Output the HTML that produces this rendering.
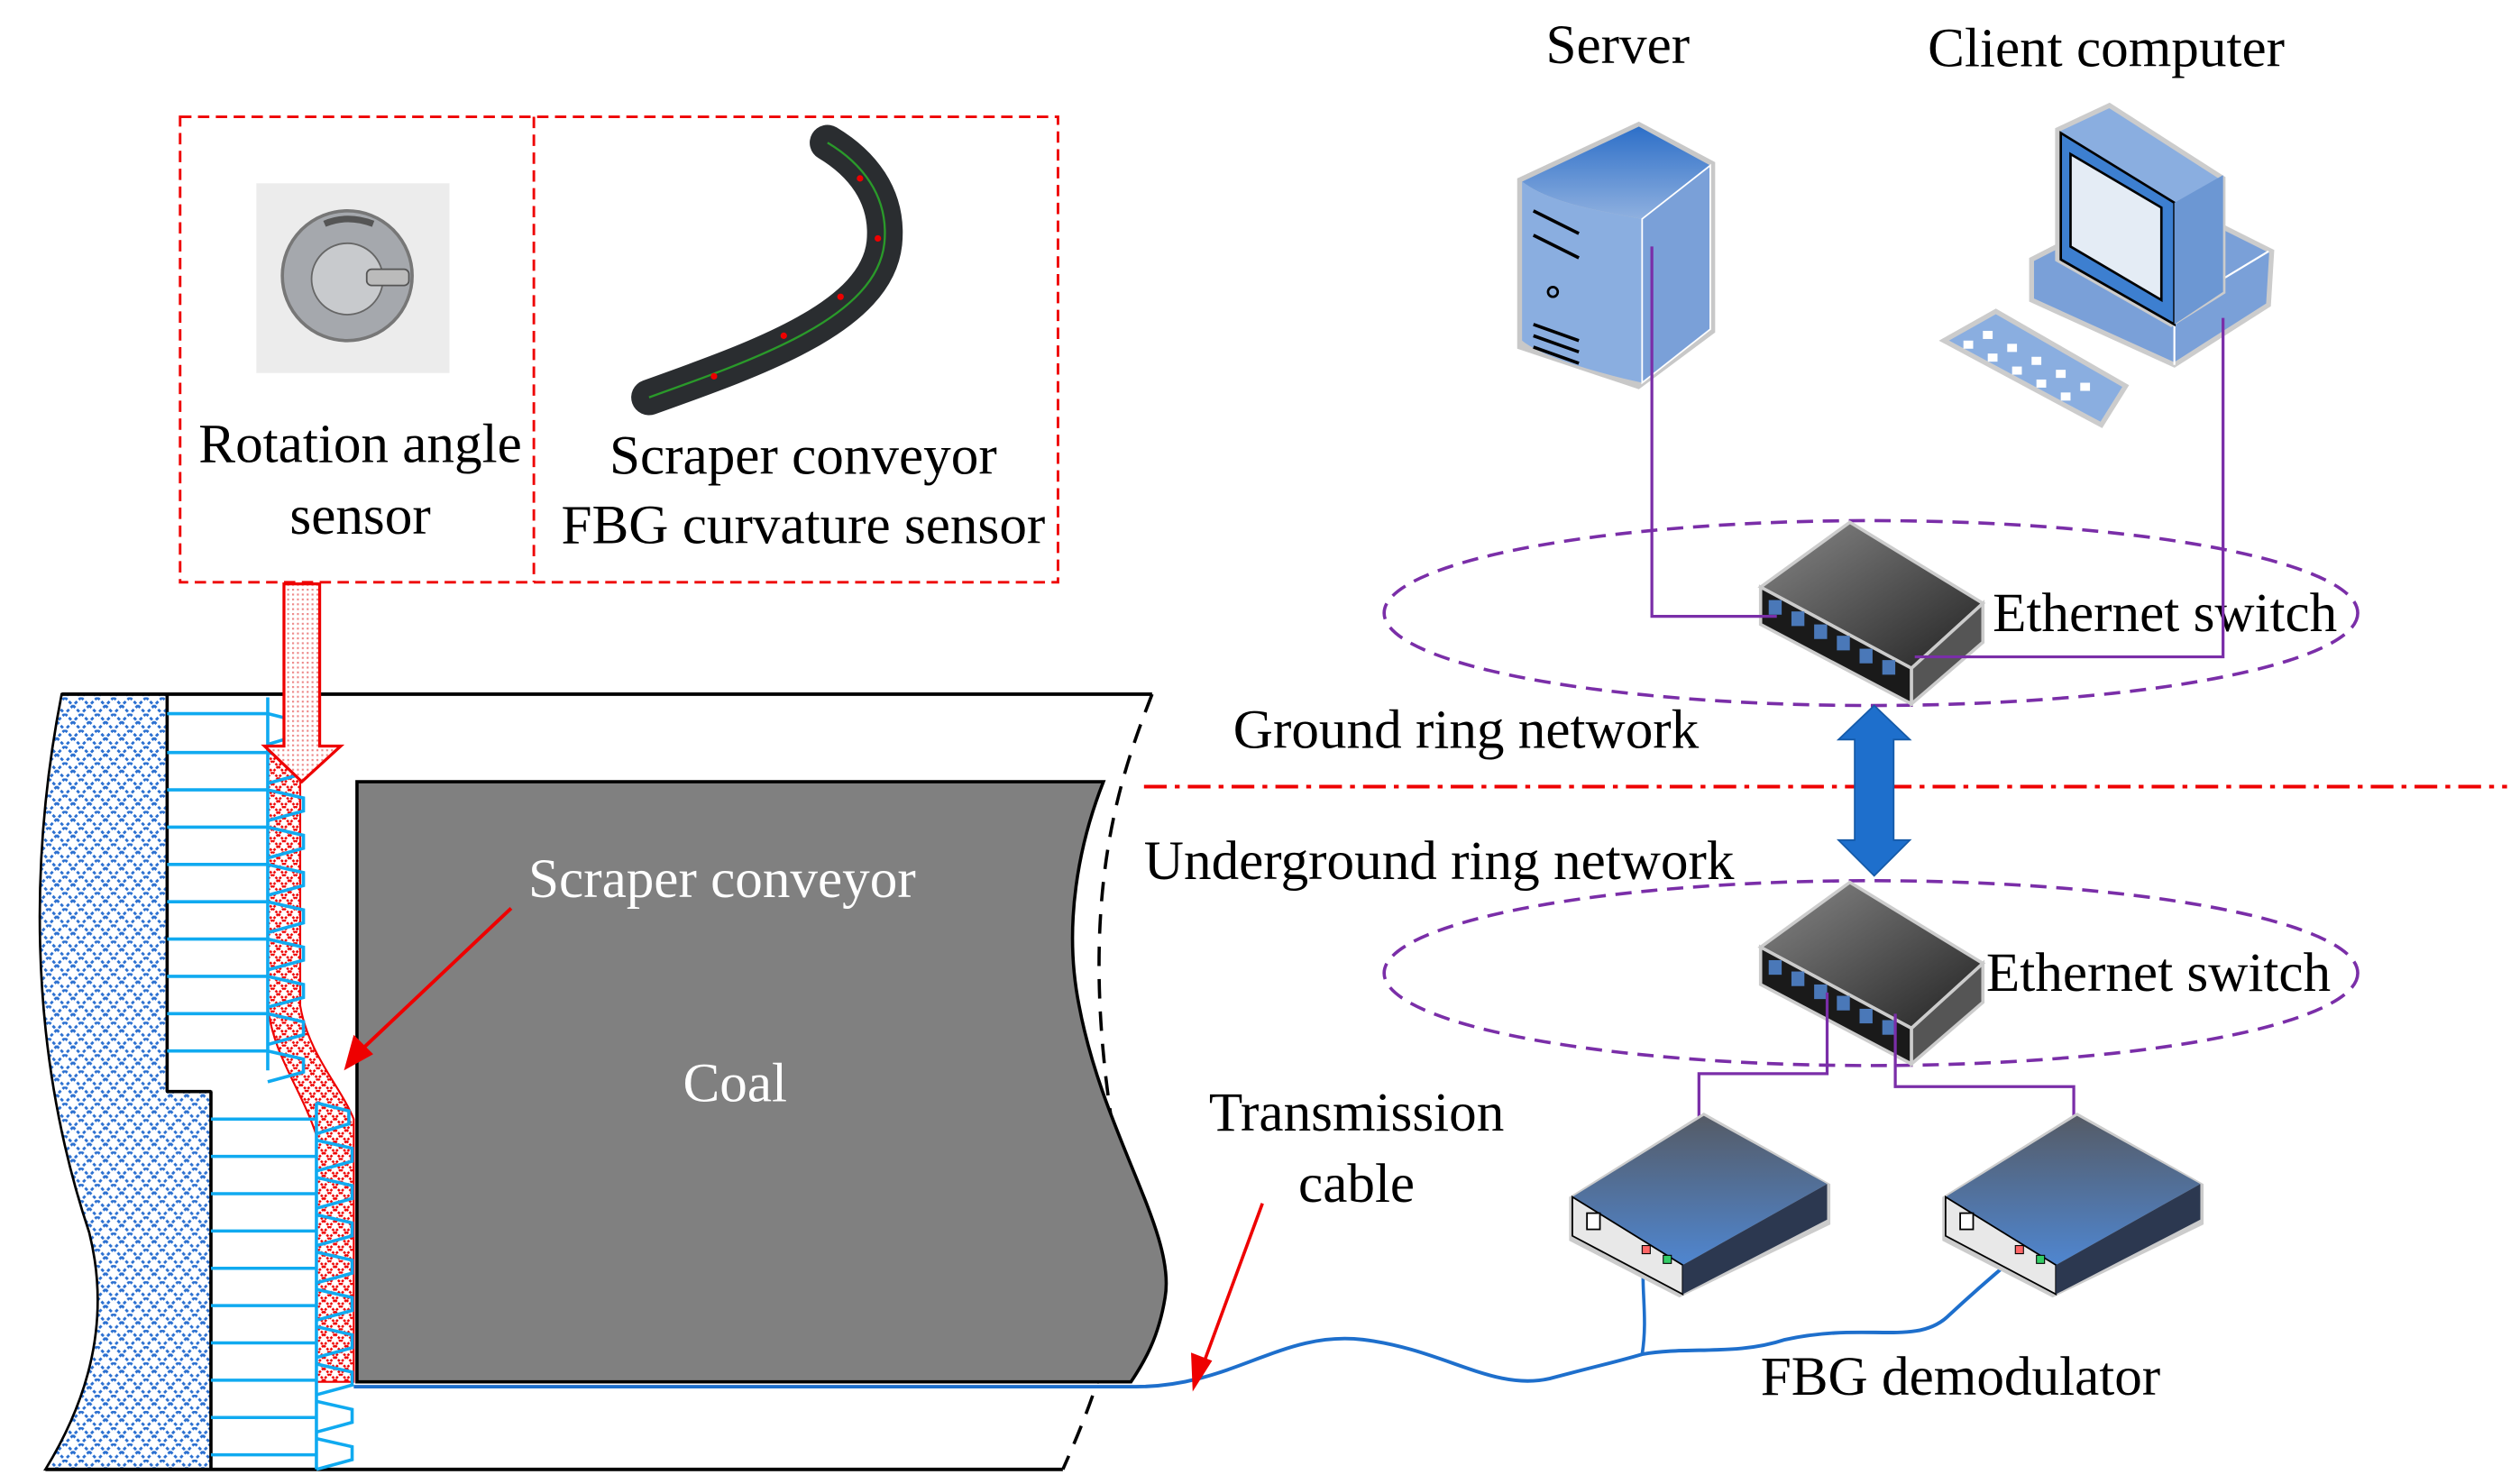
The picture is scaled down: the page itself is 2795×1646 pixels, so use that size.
<!DOCTYPE html>
<html><head><meta charset="utf-8"><style>
html,body{margin:0;padding:0;background:#fff}
svg{display:block}
text{font-family:"Liberation Serif",serif;}
</style></head><body>
<svg width="2795" height="1646" viewBox="0 0 1553 915" preserveAspectRatio="none" xmlns="http://www.w3.org/2000/svg">
<defs>
<pattern id="xh" width="10" height="10" patternUnits="userSpaceOnUse">
<path d="M0,0L10,10M10,0L0,10" stroke="#2a6fd0" stroke-width="1.6" stroke-dasharray="2,1.5"/>
</pattern>
<pattern id="rh" width="7" height="7" patternUnits="userSpaceOnUse">
<path d="M0,0L7,7M7,0L0,7" stroke="#e00" stroke-width="1.4" stroke-dasharray="1.5,1"/>
</pattern>
<pattern id="dots" width="3" height="3" patternUnits="userSpaceOnUse">
<rect width="3" height="3" fill="#fff"/><rect width="1.2" height="1.2" fill="#e88"/>
</pattern>
<linearGradient id="sw" x1="0" y1="0" x2="1" y2="1"><stop offset="0" stop-color="#888"/><stop offset="1" stop-color="#222"/></linearGradient>
<linearGradient id="bl" x1="0" y1="0" x2="0" y2="1"><stop offset="0" stop-color="#2d6fc8"/><stop offset="1" stop-color="#8fb0df"/></linearGradient>
<linearGradient id="dm" x1="0" y1="0" x2="0" y2="1"><stop offset="0" stop-color="#555b66"/><stop offset="1" stop-color="#4f86d0"/></linearGradient>
</defs>

<rect x="111" y="72" width="541" height="287" fill="none" stroke="#e00" stroke-width="1.6" stroke-dasharray="7,4"/>
<line x1="329" y1="72" x2="329" y2="359" stroke="#e00" stroke-width="1.6" stroke-dasharray="7,4"/>
<rect x="158" y="113" width="119" height="117" fill="#ececec"/>
<circle cx="214" cy="170" r="40" fill="#a5a8ad" stroke="#777" stroke-width="2"/>
<circle cx="214" cy="172" r="22" fill="#c8cacd" stroke="#666"/>
<rect x="226" y="166" width="26" height="10" rx="3" fill="#bbb" stroke="#555"/>
<path d="M200,138 Q214,132 230,138" stroke="#555" stroke-width="4" fill="none"/>
<path d="M400,245 C470,220 540,195 545,150 C548,120 530,100 510,88" stroke="#2a2d30" stroke-width="22" fill="none" stroke-linecap="round"/>
<path d="M400,245 C470,220 540,195 545,150 C548,120 530,100 510,88" stroke="#2a9a2a" stroke-width="1.3" fill="none"/>
<g fill="#e00"><circle cx="440" cy="232" r="2"/><circle cx="483" cy="207" r="2"/><circle cx="518" cy="183" r="2"/><circle cx="541" cy="147" r="2"/><circle cx="530" cy="110" r="2"/></g>
<text x="222" y="285" font-size="34" text-anchor="middle">Rotation angle</text>
<text x="222" y="329" font-size="34" text-anchor="middle">sensor</text>
<text x="495" y="292" font-size="34" text-anchor="middle">Scraper conveyor</text>
<text x="495" y="335" font-size="34" text-anchor="middle">FBG curvature sensor</text>

<path d="M38,428 C20,520 15,640 55,760 C70,820 50,870 28,906 L130,906 L130,673 L103,673 L103,428 Z" fill="url(#xh)" stroke="#000" stroke-width="1.5"/>
<line x1="38" y1="428" x2="710" y2="428" stroke="#000" stroke-width="2.2"/>
<line x1="28" y1="906" x2="655" y2="906" stroke="#000" stroke-width="2.2"/>
<path d="M710,428 C690,480 660,560 690,720 C700,790 680,850 655,906" fill="none" stroke="#000" stroke-width="2" stroke-dasharray="12,8"/>
<line x1="103" y1="428" x2="103" y2="673" stroke="#000" stroke-width="2"/>
<line x1="103" y1="673" x2="130" y2="673" stroke="#000" stroke-width="2"/>
<line x1="130" y1="673" x2="130" y2="906" stroke="#000" stroke-width="2"/>
<path d="M165,462 L185,462 L185,620 C190,650 210,670 218,690 L218,852 L195,852 L195,700 C185,670 168,650 165,620 Z" fill="url(#rh)" stroke="#e00" stroke-width="1.2"/>
<g stroke="#10aaf0" stroke-width="2" fill="none">
<path d="M103,440 H165 M103,464 H165 M103,487 H165 M103,510 H165 M103,533 H165 M103,556 H165 M103,579 H165 M103,602 H165 M103,625 H165 M103,648 H165"/>
<path d="M165,430 L165,660"/>
<path d="M165,440 l20,5 v8 l-20,6 M165,464 l22,5 v8 l-22,6 M165,487 l22,5 v8 l-22,6 M165,510 l22,5 v8 l-22,6 M165,533 l22,5 v8 l-22,6 M165,556 l22,5 v8 l-22,6 M165,579 l22,5 v8 l-22,6 M165,602 l22,5 v8 l-22,6 M165,625 l22,5 v8 l-22,6 M165,648 l22,5 v8 l-22,6"/>
<path d="M130,690 H195 M130,713 H195 M130,736 H195 M130,759 H195 M130,782 H195 M130,805 H195 M130,828 H195 M130,851 H195 M130,874 H195 M130,897 H195"/>
<path d="M195,680 L195,906"/>
<path d="M195,680 l20,5 v8 l-20,6 M195,703 l22,5 v8 l-22,6 M195,726 l22,5 v8 l-22,6 M195,749 l22,5 v8 l-22,6 M195,772 l22,5 v8 l-22,6 M195,795 l22,5 v8 l-22,6 M195,818 l22,5 v8 l-22,6 M195,841 l22,5 v8 l-22,6 M195,864 l22,5 v8 l-22,6 M195,887 l22,5 v8 l-22,6"/>
</g>
<path d="M175,360 L197,360 L197,460 L210,460 L186,482 L163,460 L175,460 Z" fill="url(#dots)" stroke="#e00" stroke-width="1.8"/>
<path d="M220,482 L680,482 C665,520 655,570 665,620 C680,700 725,760 718,800 C714,825 705,840 697,852 L220,852 Z" fill="#808080" stroke="#000" stroke-width="2"/>
<text x="445" y="553" font-size="34" fill="#fff" text-anchor="middle">Scraper conveyor</text>
<text x="453" y="679" font-size="34" fill="#fff" text-anchor="middle">Coal</text>
<line x1="315" y1="560" x2="222" y2="648" stroke="#e00" stroke-width="2.2"/>
<path d="M212,660 L218,638 L230,650 Z" fill="#e00"/>
<path d="M218,855 L700,855 C760,855 790,820 840,826 C890,832 920,858 955,850 C985,842 995,840 1012,835 C1040,830 1070,836 1100,826 C1150,815 1180,830 1200,812 C1215,798 1230,785 1242,775" fill="none" stroke="#1e6fcc" stroke-width="2.2"/>
<path d="M1012,835 C1016,810 1010,790 1014,772" fill="none" stroke="#1e6fcc" stroke-width="2"/>
<line x1="778" y1="742" x2="739" y2="848" stroke="#e00" stroke-width="2"/>
<path d="M735,858 L734,834 L747,839 Z" fill="#e00"/>
<text x="836" y="697" font-size="34" text-anchor="middle">Transmission</text>
<text x="836" y="741" font-size="34" text-anchor="middle">cable</text>

<line x1="705" y1="485" x2="1545" y2="485" stroke="#e00" stroke-width="2.2" stroke-dasharray="14,5,3,5"/>
<text x="760" y="461" font-size="34">Ground ring network</text>
<text x="705" y="542" font-size="34">Underground ring network</text>
<ellipse cx="1153" cy="378" rx="300" ry="57" fill="none" stroke="#7a2ea8" stroke-width="2" stroke-dasharray="10,6"/>
<ellipse cx="1153" cy="600" rx="300" ry="57" fill="none" stroke="#7a2ea8" stroke-width="2" stroke-dasharray="10,6"/>
<path d="M1155,435 L1177,456 L1167,456 L1167,518 L1177,518 L1155,540 L1133,518 L1143,518 L1143,456 L1133,456 Z" fill="#1e6fcc" stroke="#155aa8"/>

<g id="sw1">
<path d="M1085,362 L1140,322 L1222,372 L1178,412 Z" fill="url(#sw)" stroke="#ccc" stroke-width="2"/>
<path d="M1085,362 L1178,412 L1178,434 L1085,385 Z" fill="#1a1a1a" stroke="#ccc" stroke-width="2"/>
<path d="M1178,412 L1222,372 L1222,396 L1178,434 Z" fill="#555" stroke="#ccc" stroke-width="2"/>
<g fill="#4a78b8"><rect x="1090" y="370" width="8" height="9"/><rect x="1104" y="377" width="8" height="9"/><rect x="1118" y="385" width="8" height="9"/><rect x="1132" y="392" width="8" height="9"/><rect x="1146" y="400" width="8" height="9"/><rect x="1160" y="407" width="8" height="9"/></g>
</g>
<use href="#sw1" transform="translate(0,222)"/>
<text x="1228" y="389" font-size="34">Ethernet switch</text>
<text x="1224" y="611" font-size="34">Ethernet switch</text>

<path d="M935,110 L1010,75 L1057,100 L1057,205 L1010,240 L935,215 Z" fill="#c8c8c8"/>
<path d="M938,112 L1010,78 L1054,102 L1012,135 C985,130 955,125 938,112 Z" fill="url(#bl)"/>
<path d="M938,112 C955,125 985,130 1012,135 L1012,236 C985,230 950,220 938,210 Z" fill="#8aaee0"/>
<path d="M1012,135 L1054,102 L1054,203 L1012,236 Z" fill="#7aa0d8" stroke="#fff" stroke-width="1"/>
<g stroke="#000" stroke-width="2" fill="none"><path d="M945,130 l28,14 M945,145 l28,14 M945,200 l28,10 M945,207 l28,10 M945,214 l28,10"/></g>
<circle cx="957" cy="180" r="3" fill="none" stroke="#000" stroke-width="1.5"/>
<text x="997" y="39" font-size="34" text-anchor="middle">Server</text>

<path d="M1252,160 L1330,120 L1400,155 L1398,188 L1340,225 L1252,185 Z" fill="#7aa0d8" stroke="#ccc" stroke-width="3"/>
<path d="M1340,225 L1340,190 L1398,155" fill="none" stroke="#fff" stroke-width="1.2"/>
<path d="M1268,80 L1300,65 L1370,110 L1370,180 L1338,200 L1268,160 Z" fill="#8aaee0" stroke="#ccc" stroke-width="3"/>
<path d="M1270,82 L1340,125 L1340,200 L1270,160 Z" fill="#3d7fd0" stroke="#000" stroke-width="1.5"/>
<path d="M1276,95 L1332,128 L1332,185 L1276,152 Z" fill="#e4ecf5" stroke="#000" stroke-width="1.5"/>
<path d="M1340,125 L1370,108 L1370,180 L1340,200 Z" fill="#6c97d3"/>
<path d="M1198,210 L1230,192 L1310,238 L1295,262 Z" fill="#8aaee0" stroke="#ccc" stroke-width="3"/>
<g fill="#fff"><rect x="1210" y="210" width="6" height="5"/><rect x="1225" y="218" width="6" height="5"/><rect x="1240" y="226" width="6" height="5"/><rect x="1255" y="234" width="6" height="5"/><rect x="1270" y="242" width="6" height="5"/><rect x="1222" y="204" width="6" height="5"/><rect x="1237" y="212" width="6" height="5"/><rect x="1252" y="220" width="6" height="5"/><rect x="1267" y="228" width="6" height="5"/><rect x="1282" y="236" width="6" height="5"/></g>
<text x="1298" y="41" font-size="34" text-anchor="middle">Client computer</text>

<g fill="none" stroke="#7a2ea8" stroke-width="1.8">
<path d="M1018,152 V380 H1095"/>
<path d="M1370,196 V405 H1180"/>
<path d="M1126,612 V662 H1047 V742"/>
<path d="M1168,625 V670 H1278 V742"/>
</g>

<g id="dm1">
<path d="M967,738 L1050,686 L1128,730 L1128,755 L1035,800 L967,765 Z" fill="#ccc"/>
<path d="M969,738 L1050,688 L1126,730 L1037,780 Z" fill="url(#dm)"/>
<path d="M969,738 L1037,780 L1037,798 L969,762 Z" fill="#e8e8e8" stroke="#000" stroke-width="1"/>
<path d="M1037,780 L1126,730 L1126,752 L1037,798 Z" fill="#2c3850"/>
<rect x="978" y="748" width="8" height="10" fill="#fff" stroke="#000"/>
<rect x="1012" y="768" width="5" height="5" fill="#f66" stroke="#000" stroke-width=".6"/>
<rect x="1025" y="774" width="5" height="5" fill="#3c6" stroke="#000" stroke-width=".6"/>
</g>
<use href="#dm1" transform="translate(230,0)"/>
<text x="1085" y="860" font-size="34">FBG demodulator</text>
</svg>
</body></html>
